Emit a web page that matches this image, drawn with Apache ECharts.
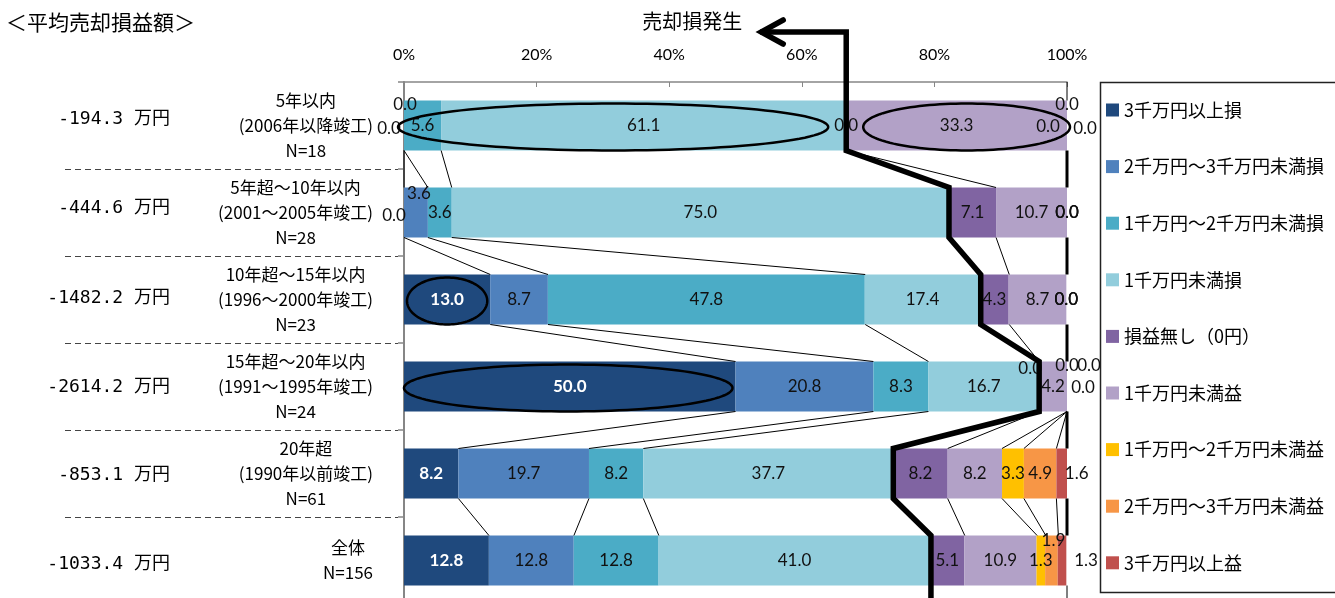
<!DOCTYPE html>
<html><head><meta charset="utf-8">
<script src="https://cdn.jsdelivr.net/npm/echarts@6/dist/echarts.min.js"></script>
<style>html,body{margin:0;padding:0;background:#fff}#c{width:1335px;height:598px}</style>
</head><body><div id="c"></div>
<script>
// ---------- data ----------
const categories = [
  '5年以内\n(2006年以降竣工)\nN=18',
  '5年超～10年以内\n(2001～2005年竣工)\nN=28',
  '10年超～15年以内\n(1996～2000年竣工)\nN=23',
  '15年超～20年以内\n(1991～1995年竣工)\nN=24',
  '20年超\n(1990年以前竣工)\nN=61',
  '全体\nN=156'
];
const avgAmounts = [-194.3, -444.6, -1482.2, -2614.2, -853.1, -1033.4];
const seriesNames = ['3千万円以上損','2千万円～3千万円未満損','1千万円～2千万円未満損','1千万円未満損','損益無し（0円）','1千万円未満益','1千万円～2千万円未満益','2千万円～3千万円未満益','3千万円以上益'];
const loss3000Plus     = [0.0, 0.0, 13.0, 50.0, 8.2, 12.8];
const loss2000to3000   = [0.0, 3.6, 8.7, 20.8, 19.7, 12.8];
const loss1000to2000   = [5.6, 3.6, 47.8, 8.3, 8.2, 12.8];
const lossUnder1000    = [61.1, 75.0, 17.4, 16.7, 37.7, 41.0];
const noProfitLoss     = [0.0, 7.1, 4.3, 0.0, 8.2, 5.1];
const profitUnder1000  = [33.3, 10.7, 8.7, 4.2, 8.2, 10.9];
const profit1000to2000 = [0.0, 0.0, 0.0, 0.0, 3.3, 1.3];
const profit2000to3000 = [0.0, 0.0, 0.0, 0.0, 4.9, 1.9];
const profit3000Plus   = [0.0, 0.0, 0.0, 0.0, 1.6, 1.3];
const titleText = '＜平均売却損益額＞';
const arrowText = '売却損発生';

// ---------- styling ----------
const seriesData = [loss3000Plus, loss2000to3000, loss1000to2000, lossUnder1000, noProfitLoss, profitUnder1000, profit1000to2000, profit2000to3000, profit3000Plus];
const colors = ['#1F497D','#4F81BD','#4BACC6','#92CDDC','#8064A2','#B2A1C7','#FFC000','#F79646','#C0504D'];
const labelOffsets = {
  '0,0': [-15, 3], '0,1': [1, -21], '0,6': [-19, 1], '0,7': [0, -21], '0,8': [18, 3],
  '1,0': [-10, 3], '1,1': [3, -19],
  '3,4': [-9, -18], '3,6': [0, -21], '3,7': [22, -21], '3,8': [16, 1],
  '4,8': [15, 0],
  '5,7': [2, -20], '5,8': [24, 0]
};
const amountDy = [-6, -4, -1, 1, 2, 4];
const LOSS_BOUNDARY = 3; // boundary after this series index
const ellipses = [
  {row: 0, from: 0, to: 3, dl: -6, dr: -18},
  {row: 0, from: 5, to: 5, dl: 17, dr: 3},
  {row: 2, from: 0, to: 0, dl: 3, dr: -3},
  {row: 3, from: 0, to: 0, dl: 0, dr: -3}
];
const GRID = {left: 404, top: 82, width: 663, height: 522};
const BAR_W = 50;

const chart = echarts.init(document.getElementById('c'), null, {renderer: 'canvas'});
const latin = 'Lato, "Noto Sans CJK JP", sans-serif';
const jp = '"Noto Sans CJK JP", sans-serif';

chart.setOption({
  animation: false,
  textStyle: {fontFamily: latin},
  grid: Object.assign({containLabel: false, outerBoundsMode: 'none'}, GRID),
  legend: {
    orient: 'vertical', left: 1106, top: 101, padding: 0,
    itemWidth: 13, itemHeight: 13, itemGap: 38.6, icon: 'rect',
    textStyle: {fontFamily: jp, fontSize: 18, color: '#000', lineHeight: 18},
    selectedMode: false,
    data: seriesNames
  },
  xAxis: {
    type: 'value', position: 'top', min: 0, max: 100, interval: 20,
    axisLine: {show: true, lineStyle: {color: '#868686', width: 1.5}},
    axisTick: {show: true, inside: true, length: 5, lineStyle: {color: '#868686'}},
    splitLine: {show: false},
    axisLabel: {formatter: '{value}%', fontFamily: latin, fontSize: 16, color: '#000', margin: 19}
  },
  yAxis: {
    type: 'category', inverse: true, data: categories,
    axisLine: {show: true, lineStyle: {color: '#868686', width: 2}},
    axisTick: {show: true, length: 6, lineStyle: {color: '#868686', width: 1.5}},
    axisLabel: {
      margin: 31,
      formatter: v => v.split('\n').map(l => '{c|' + l + '}').join('\n'),
      rich: {c: {align: 'center', fontFamily: jp, fontSize: 17, lineHeight: 25, color: '#000'}}
    }
  },
  series: seriesData.map((arr, k) => ({
    name: seriesNames[k], type: 'bar', stack: 'total', barWidth: BAR_W,
    itemStyle: {color: colors[k]},
    emphasis: {disabled: true},
    label: {show: true, position: 'inside', fontFamily: latin, fontSize: 17, color: '#111',
      formatter: p => Number(p.value).toFixed(1)},
    data: arr.map((v, i) => {
      const lab = {};
      const off = labelOffsets[i + ',' + k];
      if (off) lab.offset = off;
      if (k === 0 && v > 0) { lab.color = '#fff'; lab.fontWeight = 'bold'; }
      return {value: v, label: lab};
    })
  }))
});

// ---------- annotations computed from data ----------
function px(v) { return chart.convertToPixel({xAxisIndex: 0}, v); }
function py(i) { return chart.convertToPixel({yAxisIndex: 0}, i); }
const nRows = categories.length, nSer = seriesData.length;
const totals = categories.map((_, i) => seriesData.reduce((s, a) => s + a[i], 0));
function cumN(i, k) { let s = 0; for (let j = 0; j <= k; j++) s += seriesData[j][i]; return s / totals[i] * 100; }
function cumStart(i, k) { let s = 0; for (let j = 0; j < k; j++) s += seriesData[j][i]; return s / totals[i] * 100; }
const half = BAR_W / 2;
const band = py(1) - py(0);
const G = [];
const Z = 50;
function line(x1, y1, x2, y2, w, extra) {
  G.push(Object.assign({type: 'line', z: Z, silent: true, shape: {x1, y1, x2, y2},
    style: Object.assign({stroke: '#000', lineWidth: w}, extra || {})}));
}
// series lines
for (let i = 0; i < nRows - 1; i++) {
  for (let k = 0; k < nSer; k++) {
    const a = cumN(i, k), b = cumN(i + 1, k);
    if (a > 99.95 && b > 99.95) continue;
    line(px(a), py(i) + half, px(b), py(i + 1) - half, 1);
  }
  line(px(100), py(i) + half, px(100), py(i + 1) - half, 3);
}
line(px(100), GRID.top, px(100), py(0) - half, 1);
line(px(100), py(nRows - 1) + half, px(100), 600, 1);
// dashed separators
for (let i = 1; i < nRows; i++) {
  const y = Math.round(py(0) - band / 2 + i * band) + 0.5;
  line(65, y, GRID.left - 6, y, 1.2, {stroke: '#444', lineDash: [6, 4]});
}
// loss boundary thick line with arrow
const ax = px(cumN(0, LOSS_BOUNDARY));
const ay = GRID.top - 50;
const tipX = ax - 86;
const pts = [[tipX, ay], [ax, ay]];
for (let i = 0; i < nRows; i++) {
  const x = px(cumN(i, LOSS_BOUNDARY));
  if (i > 0) pts.push([x, py(i) - half]);
  pts.push([x, py(i) + half]);
}
pts.push([pts[pts.length - 1][0], 604]);
G.push({type: 'polyline', z: Z + 1, silent: true, shape: {points: pts},
  style: {stroke: '#000', lineWidth: 5.5, fill: null, lineJoin: 'miter'}});
G.push({type: 'polyline', z: Z + 1, silent: true, shape: {points: [[tipX + 23, ay - 12], [tipX + 1, ay], [tipX + 23, ay + 12]]},
  style: {stroke: '#000', lineWidth: 5.5, fill: null, lineJoin: 'miter', lineCap: 'round'}});
G.push({type: 'text', z: Z, silent: true, x: tipX - 18, y: ay - 11,
  style: {text: arrowText, fontFamily: jp, fontSize: 20, fill: '#000', align: 'right', verticalAlign: 'middle'}});
// ellipses
ellipses.forEach(e => {
  const x1 = px(cumStart(e.row, e.from)) + e.dl, x2 = px(cumN(e.row, e.to)) + e.dr;
  const cx = (x1 + x2) / 2, rx = (x2 - x1) / 2, cy = py(e.row) + 1.5, ry = 23.5;
  const p = [];
  for (let t = 0; t < 120; t++) { const a = t / 120 * Math.PI * 2; p.push([cx + rx * Math.cos(a), cy + ry * Math.sin(a)]); }
  G.push({type: 'polygon', z: Z + 2, silent: true, shape: {points: p}, style: {stroke: '#000', lineWidth: 2.5, fill: null}});
});
// average amounts
avgAmounts.forEach((v, i) => {
  G.push({type: 'text', z: Z, silent: true, x: 170, y: py(i) + amountDy[i],
    style: {text: v.toFixed(1) + ' 万円', fontFamily: '"DejaVu Sans Mono", "Noto Sans CJK JP"', fontSize: 18, fill: '#000', align: 'right', verticalAlign: 'middle'}});
});
// title
G.push({type: 'text', z: Z, silent: true, x: 6, y: 22,
  style: {text: titleText, fontFamily: jp, fontSize: 21, fill: '#000', align: 'left', verticalAlign: 'middle'}});
// legend box
G.push({type: 'rect', z: Z, silent: true, shape: {x: 1100.5, y: 82.5, width: 260, height: 510},
  style: {stroke: '#222', lineWidth: 1.5, fill: null}});
chart.setOption({graphic: G});
</script>
</body></html>
